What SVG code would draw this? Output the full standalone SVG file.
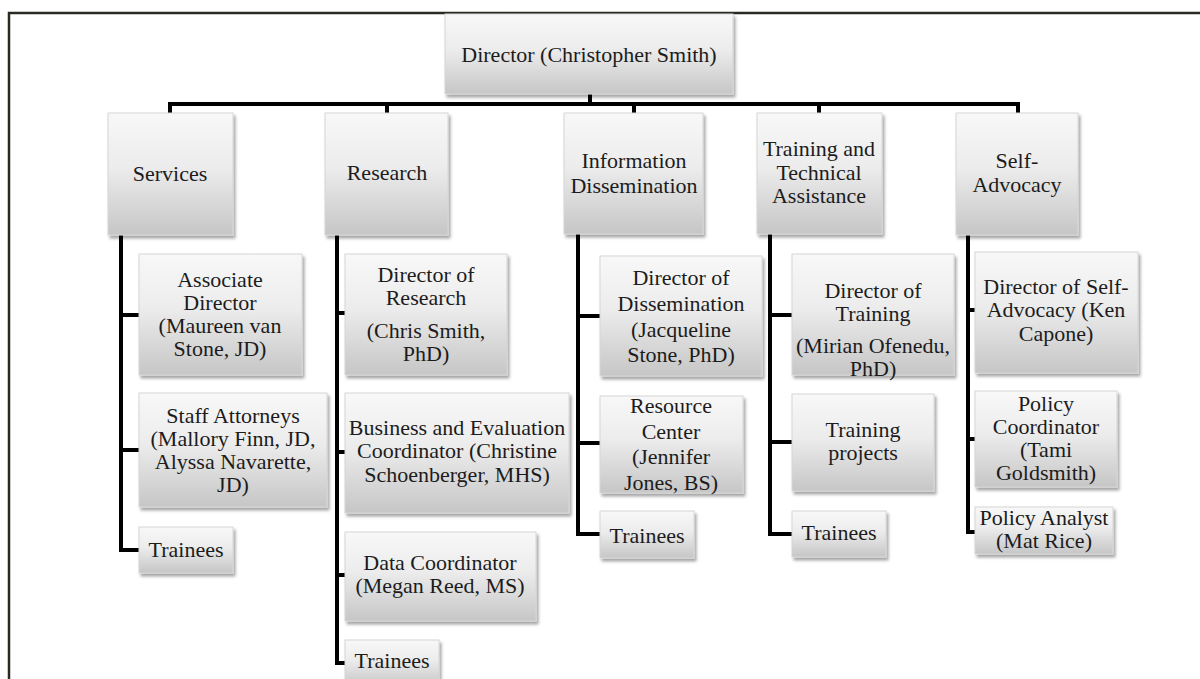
<svg xmlns="http://www.w3.org/2000/svg" width="1200" height="679" viewBox="0 0 1200 679">
<defs>
<linearGradient id="g" x1="0" y1="0" x2="0" y2="1">
<stop offset="0" stop-color="#f8f8f8"/>
<stop offset="0.45" stop-color="#ececec"/>
<stop offset="1" stop-color="#c6c6c6"/>
</linearGradient>
<filter id="sh" x="-10%" y="-10%" width="125%" height="130%">
<feDropShadow dx="2" dy="3" stdDeviation="1.8" flood-color="#000" flood-opacity="0.35"/>
</filter>
</defs>
<style>
.box{fill:url(#g);stroke:#d6d6d6;stroke-width:1;filter:url(#sh)}
.bev{fill:none;stroke:#ffffff;stroke-opacity:0.7;stroke-width:2}
text{font-family:"Liberation Serif","Times New Roman",serif;font-size:22px;fill:#1c1c1c;text-anchor:middle}
.ln{fill:none;stroke:#000;stroke-width:4;stroke-linejoin:miter}
.frame{fill:none;stroke:#2a2a22;stroke-width:2.5}
</style>
<rect width="1200" height="679" fill="#fff"/>
<path class="frame" d="M9,690 V13 H1210"/>

<g id="connectors">
<path class="ln" d="M590,94 V104 M170,113 V104 H1018 V113 M387,104 V113 M634,104 V113 M819,104 V113"/>
<path class="ln" d="M121,235 V550 H139 M121,315 H139 M121,450 H139"/>
<path class="ln" d="M337,235 V663 H345 M337,313 H345 M337,452 H345 M337,575 H345"/>
<path class="ln" d="M578,234 V534 H600 M578,316 H600 M578,443 H600"/>
<path class="ln" d="M770,234 V534 H792 M770,315 H792 M770,442 H792"/>
<path class="ln" d="M968,235 V532 H975 M968,310 H975 M968,439 H975"/>
</g>

<g id="director">
<rect class="box" x="445" y="14" width="288" height="80"/>
<text x="589" y="62">Director (Christopher Smith)</text>
</g>

<g id="services">
<rect class="box" x="108" y="113" width="125" height="122"/>
<text x="170" y="181">Services</text>
</g>
<g id="research">
<rect class="box" x="325" y="113" width="123" height="122"/>
<text x="387" y="180">Research</text>
</g>
<g id="info">
<rect class="box" x="564" y="113" width="139" height="121"/>
<text x="634" y="168">Information</text>
<text x="634" y="193">Dissemination</text>
</g>
<g id="training">
<rect class="box" x="757" y="113" width="125" height="121"/>
<text x="819" y="156">Training and</text>
<text x="819" y="180">Technical</text>
<text x="819" y="203">Assistance</text>
</g>
<g id="selfadvocacy">
<rect class="box" x="956" y="113" width="122" height="122"/>
<text x="1017" y="168">Self-</text>
<text x="1017" y="192">Advocacy</text>
</g>

<g id="assoc-director">
<rect class="box" x="139" y="254" width="163" height="121"/>
<text x="220" y="287">Associate</text>
<text x="220" y="310">Director</text>
<text x="220" y="333">(Maureen van</text>
<text x="220" y="356">Stone, JD)</text>
</g>
<g id="staff-attorneys">
<rect class="box" x="139" y="393" width="188" height="114"/>
<text x="233" y="423">Staff Attorneys</text>
<text x="233" y="446">(Mallory Finn, JD,</text>
<text x="233" y="469">Alyssa Navarette,</text>
<text x="233" y="492">JD)</text>
</g>
<g id="services-trainees">
<rect class="box" x="139" y="527" width="94" height="46"/>
<text x="186" y="557">Trainees</text>
</g>

<g id="dir-research">
<rect class="box" x="345" y="254" width="162" height="121"/>
<text x="426" y="282">Director of</text>
<text x="426" y="305">Research</text>
<text x="426" y="338">(Chris Smith,</text>
<text x="426" y="361">PhD)</text>
</g>
<g id="business-eval">
<rect class="box" x="345" y="393" width="224" height="120"/>
<text x="457" y="435">Business and Evaluation</text>
<text x="457" y="458">Coordinator (Christine</text>
<text x="457" y="482">Schoenberger, MHS)</text>
</g>
<g id="data-coord">
<rect class="box" x="345" y="532" width="191" height="89"/>
<text x="440" y="570">Data Coordinator</text>
<text x="440" y="593">(Megan Reed, MS)</text>
</g>
<g id="research-trainees">
<rect class="box" x="345" y="640" width="94" height="46"/>
<text x="392" y="668">Trainees</text>
</g>

<g id="dir-dissemination">
<rect class="box" x="600" y="256" width="162" height="120"/>
<text x="681" y="285">Director of</text>
<text x="681" y="311">Dissemination</text>
<text x="681" y="337">(Jacqueline</text>
<text x="681" y="362">Stone, PhD)</text>
</g>
<g id="resource-center">
<rect class="box" x="600" y="396" width="143" height="97"/>
<text x="671" y="413">Resource</text>
<text x="671" y="439">Center</text>
<text x="671" y="464">(Jennifer</text>
<text x="671" y="490">Jones, BS)</text>
</g>
<g id="info-trainees">
<rect class="box" x="600" y="511" width="94" height="47"/>
<text x="647" y="543">Trainees</text>
</g>

<g id="dir-training">
<rect class="box" x="792" y="254" width="162" height="121"/>
<text x="873" y="298">Director of</text>
<text x="873" y="321">Training</text>
<text x="873" y="353">(Mirian Ofenedu,</text>
<text x="873" y="376">PhD)</text>
</g>
<g id="training-projects">
<rect class="box" x="792" y="394" width="142" height="97"/>
<text x="863" y="437">Training</text>
<text x="863" y="460">projects</text>
</g>
<g id="training-trainees">
<rect class="box" x="792" y="511" width="94" height="46"/>
<text x="839" y="540">Trainees</text>
</g>

<g id="dir-selfadvocacy">
<rect class="box" x="975" y="252" width="163" height="121"/>
<text x="1056" y="294">Director of Self-</text>
<text x="1056" y="317">Advocacy (Ken</text>
<text x="1056" y="341">Capone)</text>
</g>
<g id="policy-coord">
<rect class="box" x="975" y="391" width="142" height="96"/>
<text x="1046" y="411">Policy</text>
<text x="1046" y="434">Coordinator</text>
<text x="1046" y="457">(Tami</text>
<text x="1046" y="480">Goldsmith)</text>
</g>
<g id="policy-analyst">
<rect class="box" x="975" y="507" width="138" height="47"/>
<text x="1044" y="525">Policy Analyst</text>
<text x="1044" y="548">(Mat Rice)</text>
</g>
</svg>
